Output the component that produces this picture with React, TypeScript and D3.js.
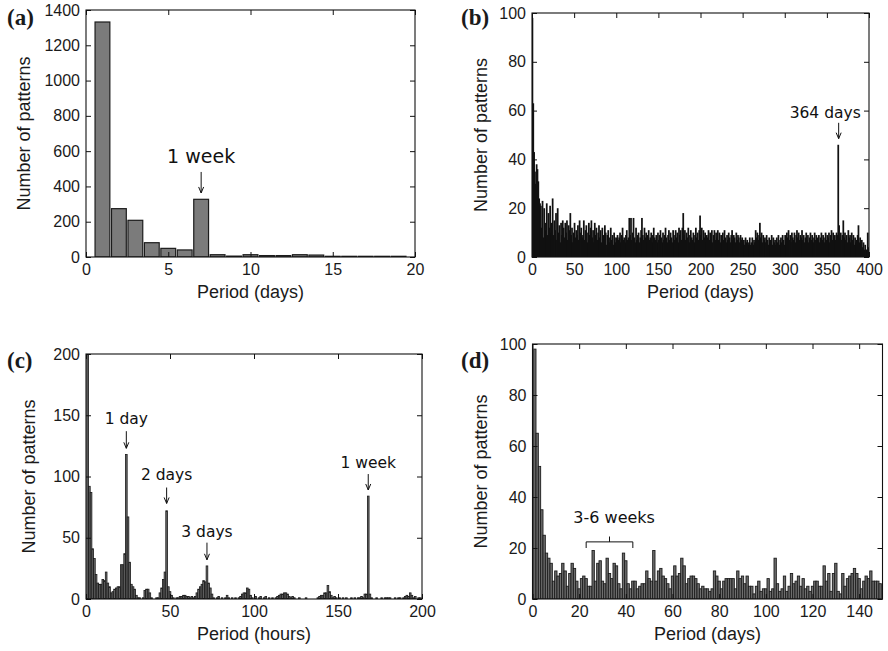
import React, { useEffect, useRef } from 'react';
import * as d3 from 'd3';

// (a) short periods, in days
const weekBins = [1, 2, 3, 4, 5, 6, 7, 8, 9, 10, 11, 12, 13, 14, 15, 16, 17, 18, 19];
const weekCounts = [1332, 274, 208, 81, 49, 40, 327, 13, 5, 13, 8, 8, 13, 11, 4, 4, 4, 4, 4];

// (b) one bar per day, days 1..400
const dailyCounts = [
  98, 63, 43, 35, 30, 38, 36, 31, 24, 22,
  21, 12, 23, 8, 20, 11, 14, 22, 9, 18,
  12, 21, 10, 14, 24, 9, 15, 11, 18, 7,
  20, 10, 13, 6, 14, 9, 15, 12, 8, 14,
  10, 15, 7, 13, 11, 18, 9, 12, 6, 10,
  14, 8, 11, 9, 13, 7, 15, 10, 12, 8,
  9, 15, 7, 11, 13, 6, 10, 14, 9, 12,
  15, 8, 11, 6, 14, 9, 12, 7, 10, 13,
  8, 11, 6, 12, 9, 7, 13, 10, 5, 9,
  11, 6, 8, 12, 7, 9, 5, 10, 8, 6,
  8, 9, 7, 8, 10, 6, 9, 12, 7, 8,
  6, 9, 11, 7, 8, 16, 9, 16, 7, 10,
  16, 8, 6, 12, 7, 9, 10, 6, 8, 11,
  16, 9, 7, 12, 8, 10, 6, 9, 11, 7,
  8, 10, 6, 9, 12, 8, 7, 9, 6, 10,
  7, 9, 11, 8, 6, 10, 7, 9, 12, 8,
  6, 9, 11, 7, 10, 8, 6, 11, 9, 7,
  11, 8, 10, 6, 12, 9, 11, 7, 12, 18,
  9, 11, 7, 10, 8, 12, 6, 9, 11, 8,
  7, 10, 6, 9, 12, 8, 10, 7, 11, 17,
  9, 12, 7, 11, 8, 10, 6, 9, 8, 11,
  7, 10, 8, 11, 6, 9, 11, 7, 10, 8,
  11, 7, 10, 6, 9, 8, 10, 7, 11, 8,
  6, 9, 7, 10, 8, 6, 9, 11, 7, 9,
  8, 6, 10, 7, 9, 8, 6, 9, 7, 8,
  6, 7, 5, 8, 6, 7, 5, 6, 8, 5,
  6, 8, 5, 7, 6, 11, 8, 10, 7, 9,
  14, 8, 10, 6, 9, 7, 8, 6, 9, 7,
  5, 8, 6, 7, 9, 5, 8, 6, 7, 5,
  8, 6, 9, 5, 7, 8, 6, 9, 7, 5,
  9, 6, 10, 8, 11, 7, 9, 6, 10, 8,
  7, 10, 6, 9, 11, 8, 10, 7, 9, 8,
  11, 7, 9, 6, 8, 10, 7, 9, 6, 8,
  10, 7, 9, 8, 6, 10, 7, 9, 8, 7,
  9, 6, 8, 10, 7, 9, 8, 6, 10, 7,
  9, 8, 10, 6, 9, 11, 7, 10, 8, 9,
  7, 10, 9, 46, 13, 8, 10, 7, 9, 15,
  8, 10, 7, 9, 6, 11, 8, 9, 6, 10,
  7, 9, 5, 8, 6, 7, 9, 13, 6, 8,
  5, 7, 4, 6, 3, 5, 3, 3, 10, 4,
];

// (c) one bar per hour, hours 1..199
const hourlyCounts = [
  200, 92, 87, 41, 33, 20, 13, 12, 12, 16,
  15, 22, 13, 10, 5, 6, 8, 9, 10, 10,
  28, 28, 37, 118, 67, 30, 12, 10, 8, 3,
  1, 1, 0, 1, 7, 8, 8, 5, 1, 0,
  0, 1, 1, 5, 9, 16, 22, 72, 10, 6,
  3, 1, 0, 1, 1, 2, 2, 3, 3, 2,
  2, 1, 2, 1, 2, 5, 8, 10, 12, 15,
  14, 27, 13, 9, 4, 1, 0, 1, 2, 0,
  1, 0, 1, 3, 1, 0, 1, 0, 1, 0,
  1, 2, 4, 5, 5, 9, 8, 3, 1, 0,
  2, 0, 1, 2, 0, 1, 2, 0, 1, 0,
  1, 0, 1, 2, 3, 4, 4, 5, 5, 4,
  2, 1, 2, 1, 0, 0, 1, 0, 0, 0,
  1, 0, 0, 0, 0, 0, 0, 1, 2, 3,
  3, 5, 5, 11, 6, 3, 1, 2, 1, 0,
  1, 0, 1, 0, 1, 0, 0, 1, 0, 1,
  0, 1, 1, 2, 1, 4, 4, 84, 4, 1,
  0, 0, 1, 0, 0, 1, 0, 1, 1, 1,
  1, 0, 0, 1, 0, 1, 1, 0, 1, 2,
  3, 2, 5, 3, 1, 2, 0, 1, 1,
];

// (d) one bar per day, days 1..149
const dayCounts = [
  98, 65, 52, 35, 25, 18, 16, 14, 7, 11,
  9, 10, 14, 11, 5, 10, 14, 12, 7, 4,
  8, 9, 8, 5, 5, 19, 7, 14, 15, 7,
  6, 16, 10, 8, 14, 13, 6, 4, 18, 15,
  6, 4, 7, 7, 4, 5, 6, 6, 11, 8,
  7, 19, 7, 11, 12, 9, 8, 6, 4, 9,
  13, 9, 10, 16, 13, 6, 8, 9, 9, 8,
  6, 4, 5, 4, 4, 3, 4, 11, 9, 7,
  4, 7, 8, 8, 8, 8, 4, 11, 8, 9,
  6, 9, 5, 5, 2, 5, 7, 3, 4, 4,
  8, 3, 4, 16, 6, 3, 4, 9, 3, 5,
  10, 6, 7, 9, 5, 8, 4, 5, 3, 5,
  7, 7, 5, 5, 13, 7, 10, 3, 10, 14,
  3, 2, 10, 5, 8, 9, 10, 12, 10, 8,
  4, 7, 9, 8, 11, 7, 7, 7, 6,
];

// arrow annotations: label, x position, text baseline, arrow start, arrow tip (data units)
const hourNotes = [
  { label: '1 day', at: 24, text: 143, from: 137, to: 123 },
  { label: '2 days', at: 48, text: 97, from: 91, to: 78 },
  { label: '3 days', at: 72, text: 51, from: 46, to: 32 },
  { label: '1 week', at: 168, text: 107, from: 102, to: 89 },
];

const AXIS_FONT = '"Liberation Sans", Arial, sans-serif';
const NOTE_FONT = '"DejaVu Sans", sans-serif';
const TAG_FONT = '"Liberation Serif", "Times New Roman", serif';

const makePanel = (svg, p) => {
    const x = d3.scaleLinear().domain(p.xDomain).range([p.left, p.right]);
    const y = d3.scaleLinear().domain(p.yDomain).range([p.bottom, p.top]);
    const g = svg.append('g');

    g.append('clipPath').attr('id', 'clip-' + p.id)
        .append('rect')
        .attr('x', p.left).attr('y', p.top)
        .attr('width', p.right - p.left).attr('height', p.bottom - p.top);

    const plot = g.append('g').attr('clip-path', `url(#clip-${p.id})`);
    return { g, x, y, plot };
};

const finishPanel = (panel, p) => {
    const { g, x, y } = panel;
    const fmt = d3.format('d');
    const style = sel => {
        sel.select('.domain').remove();
        sel.attr('font-size', 16).attr('font-family', AXIS_FONT);
        sel.selectAll('line').attr('stroke', '#111');
        sel.selectAll('text').attr('fill', '#1a1a1a');
    };

    g.append('g').attr('transform', `translate(0,${p.bottom})`)
        .call(d3.axisBottom(x).tickValues(p.xTicks).tickFormat(fmt).tickSize(-5).tickPadding(7))
        .call(style);
    g.append('g').attr('transform', `translate(0,${p.top})`)
        .call(d3.axisTop(x).tickValues(p.xTicks).tickSize(-5).tickFormat(() => ''))
        .call(style);
    g.append('g').attr('transform', `translate(${p.left},0)`)
        .call(d3.axisLeft(y).tickValues(p.yTicks).tickFormat(fmt).tickSize(-5).tickPadding(6))
        .call(style);
    g.append('g').attr('transform', `translate(${p.right},0)`)
        .call(d3.axisRight(y).tickValues(p.yTicks).tickSize(-5).tickFormat(() => ''))
        .call(style);

    // frame
    g.append('rect')
        .attr('x', p.left).attr('y', p.top)
        .attr('width', p.right - p.left).attr('height', p.bottom - p.top)
        .attr('fill', 'none').attr('stroke', '#111').attr('stroke-width', 1.1);

    // axis titles
    g.append('text')
        .attr('x', (p.left + p.right) / 2).attr('y', p.bottom + 41)
        .attr('text-anchor', 'middle')
        .attr('font-family', AXIS_FONT).attr('font-size', 18).attr('fill', '#1a1a1a')
        .text(p.xLabel);
    g.append('text')
        .attr('transform', `translate(${p.yTitleX},${(p.top + p.bottom) / 2})rotate(-90)`)
        .attr('text-anchor', 'middle')
        .attr('font-family', AXIS_FONT).attr('font-size', 18).attr('fill', '#1a1a1a')
        .text('Number of patterns');

    // panel tag
    g.append('text')
        .attr('x', p.tagX).attr('y', p.tagY)
        .attr('font-family', TAG_FONT).attr('font-size', 23).attr('font-weight', 'bold')
        .attr('fill', '#1a1a1a')
        .text(p.tag);
};

const drawArrow = (g, px, y0, y1) => {
    g.append('line')
        .attr('x1', px).attr('x2', px).attr('y1', y0).attr('y2', y1)
        .attr('stroke', '#111').attr('stroke-width', 1);
    g.append('path')
        .attr('d', `M${px - 2.5},${y1 - 6}L${px},${y1}L${px + 2.5},${y1 - 6}`)
        .attr('fill', 'none').attr('stroke', '#111').attr('stroke-width', 1);
};

const note = (g, x, y, label, size) => {
    g.append('text')
        .attr('x', x).attr('y', y)
        .attr('text-anchor', 'middle')
        .attr('font-family', NOTE_FONT).attr('font-size', size).attr('fill', '#111')
        .text(label);
};

export default function App() {
    const svgRef = useRef(null);

    useEffect(() => {
        const svg = d3.select(svgRef.current);
        svg.selectAll('*').remove();

        // ---------- (a) ----------
        const pa = {
            id: 'a', tag: '(a)', left: 86, right: 415, top: 10, bottom: 257,
            xDomain: [0, 20], yDomain: [0, 1400],
            xTicks: [0, 5, 10, 15, 20], yTicks: d3.range(0, 1401, 200),
            xLabel: 'Period (days)', yTitleX: 30, tagX: 7, tagY: 25,
        };
        const a = makePanel(svg, pa);
        a.plot.selectAll('rect')
            .data(weekBins)
            .enter()
            .append('rect')
            .attr('x', d => a.x(d - 0.45))
            .attr('width', a.x(0.9) - a.x(0))
            .attr('y', (d, i) => a.y(weekCounts[i]))
            .attr('height', (d, i) => a.y(0) - a.y(weekCounts[i]))
            .attr('fill', '#7b7b7b')
            .attr('stroke', '#1c1c1c')
            .attr('stroke-width', 1.2);
        finishPanel(a, pa);
        note(a.g, a.x(7), a.y(533), '1 week', 19);
        drawArrow(a.g, a.x(7), a.y(482), a.y(363));

        // ---------- (b) ----------
        const pb = {
            id: 'b', tag: '(b)', left: 532, right: 869, top: 13, bottom: 257,
            xDomain: [0, 400], yDomain: [0, 100],
            xTicks: d3.range(0, 401, 50), yTicks: d3.range(0, 101, 20),
            xLabel: 'Period (days)', yTitleX: 487, tagX: 461, tagY: 25,
        };
        const b = makePanel(svg, pb);
        // bars are narrower than a pixel, so let them overlap a little to read as solid
        b.plot.selectAll('rect')
            .data(dailyCounts)
            .enter()
            .append('rect')
            .attr('x', (d, i) => b.x(i) - 0.45)
            .attr('width', b.x(1) - b.x(0) + 0.9)
            .attr('y', d => b.y(d))
            .attr('height', d => b.y(0) - b.y(d))
            .attr('fill', '#111');
        finishPanel(b, pb);
        note(b.g, b.x(348), b.y(57), '364 days', 15.5);
        drawArrow(b.g, b.x(364), b.y(55), b.y(48.5));

        // ---------- (c) ----------
        const pc = {
            id: 'c', tag: '(c)', left: 86, right: 422, top: 354, bottom: 599,
            xDomain: [0, 200], yDomain: [0, 200],
            xTicks: d3.range(0, 201, 50), yTicks: d3.range(0, 201, 50),
            xLabel: 'Period (hours)', yTitleX: 35, tagX: 7, tagY: 368,
        };
        const c = makePanel(svg, pc);
        c.plot.selectAll('rect')
            .data(hourlyCounts)
            .enter()
            .append('rect')
            .attr('x', (d, i) => c.x(i + 0.5))
            .attr('width', c.x(1) - c.x(0))
            .attr('y', d => c.y(d))
            .attr('height', d => c.y(0) - c.y(d))
            .attr('fill', '#6a6a6a')
            .attr('stroke', '#1a1a1a')
            .attr('stroke-width', 0.8);
        finishPanel(c, pc);
        hourNotes.forEach(n => {
            note(c.g, c.x(n.at), c.y(n.text), n.label, 15.5);
            drawArrow(c.g, c.x(n.at), c.y(n.from), c.y(n.to));
        });

        // ---------- (d) ----------
        const pd = {
            id: 'd', tag: '(d)', left: 532.5, right: 882.5, top: 344, bottom: 599,
            xDomain: [0, 150], yDomain: [0, 100],
            xTicks: d3.range(0, 141, 20), yTicks: d3.range(0, 101, 20),
            xLabel: 'Period (days)', yTitleX: 487, tagX: 461, tagY: 368,
        };
        const dp = makePanel(svg, pd);
        dp.plot.selectAll('rect')
            .data(dayCounts)
            .enter()
            .append('rect')
            .attr('x', (d, i) => dp.x(i + 0.5))
            .attr('width', dp.x(1) - dp.x(0))
            .attr('y', d => dp.y(d))
            .attr('height', d => dp.y(0) - dp.y(d))
            .attr('fill', '#6e6e6e')
            .attr('stroke', '#1c1c1c')
            .attr('stroke-width', 0.9);
        finishPanel(dp, pd);
        note(dp.g, dp.x(35), dp.y(29.8), '3-6 weeks', 16);
        // bracket over the 3-6 week range
        dp.g.append('path')
            .attr('d', `M${dp.x(23)},${dp.y(20)}V${dp.y(22.4)}H${dp.x(43)}V${dp.y(20)}` +
                `M${dp.x(33)},${dp.y(22.4)}V${dp.y(24.5)}`)
            .attr('fill', 'none').attr('stroke', '#111').attr('stroke-width', 1);
    }, []);

    return (
        <svg
            ref={svgRef}
            width={888}
            height={651}
            style={{ position: 'absolute', left: 0, top: 0, background: '#fff' }}
        />
    );
}
